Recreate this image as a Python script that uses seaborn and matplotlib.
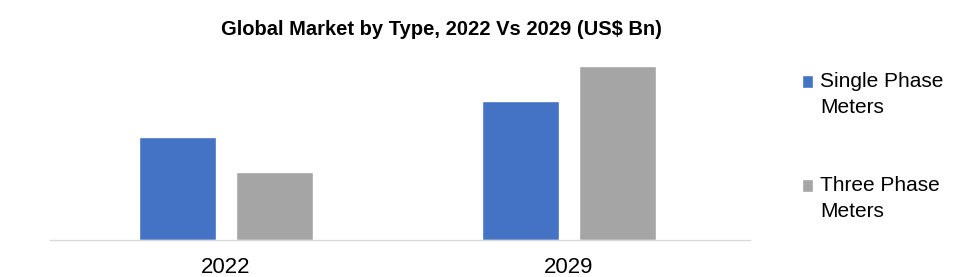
import matplotlib
matplotlib.use("Agg")
import matplotlib.pyplot as plt
import seaborn as sns
import pandas as pd

years = ["2022", "2029"]
types = ["Single Phase\nMeters", "Three Phase\nMeters"]
single_phase = [103, 139]
three_phase = [68, 174]

df = pd.DataFrame({
    "Year": years * 2,
    "Type": [types[0]] * 2 + [types[1]] * 2,
    "Value": single_phase + three_phase,
})

sns.set_theme(style="white")
plt.rcParams["font.family"] = ["Liberation Sans", "DejaVu Sans"]
plt.rcParams["text.color"] = "black"

fig = plt.figure(figsize=(9.65, 2.77), dpi=100)
ax = fig.add_axes([0.052, 0.1336, 0.725, 0.65])

sns.barplot(data=df, x="Year", y="Value", hue="Type", order=years, hue_order=types,
            palette=["#4472C4", "#A5A5A5"], width=0.566, gap=0.206, ax=ax,
            saturation=1, errorbar=None)

ax.set_ylim(0, 180)
ax.set_xlim(-0.513, 1.528)
ax.set_xlabel("")
ax.set_ylabel("")
ax.set_yticks([])
for s in ["top", "right", "left"]:
    ax.spines[s].set_visible(False)
ax.spines["bottom"].set_color("#d9d9d9")
ax.spines["bottom"].set_linewidth(1)
ax.tick_params(axis="x", length=0, labelsize=16, pad=12, colors="black")

fig.text(0.457, 0.892, "Global Market by Type, 2022 Vs 2029 (US$ Bn)", ha="center", va="center",
         fontsize=14.5, fontweight="bold", color="black")

handles, labels = ax.get_legend_handles_labels()
# leading blank line keeps each marker level with the first line of its label
labels = ["\n" + l for l in labels]
leg = ax.legend(handles, labels, loc="upper left", bbox_to_anchor=(0.822, 0.865),
                bbox_transform=fig.transFigure,
                frameon=False, fontsize=15, handlelength=0.55, handleheight=0.55,
                handletextpad=0.35, labelspacing=1.6, borderaxespad=0)
for t in leg.get_texts():
    t.set_linespacing(1.46)
    t.set_color("black")

fig.savefig("out.png", dpi=100)
